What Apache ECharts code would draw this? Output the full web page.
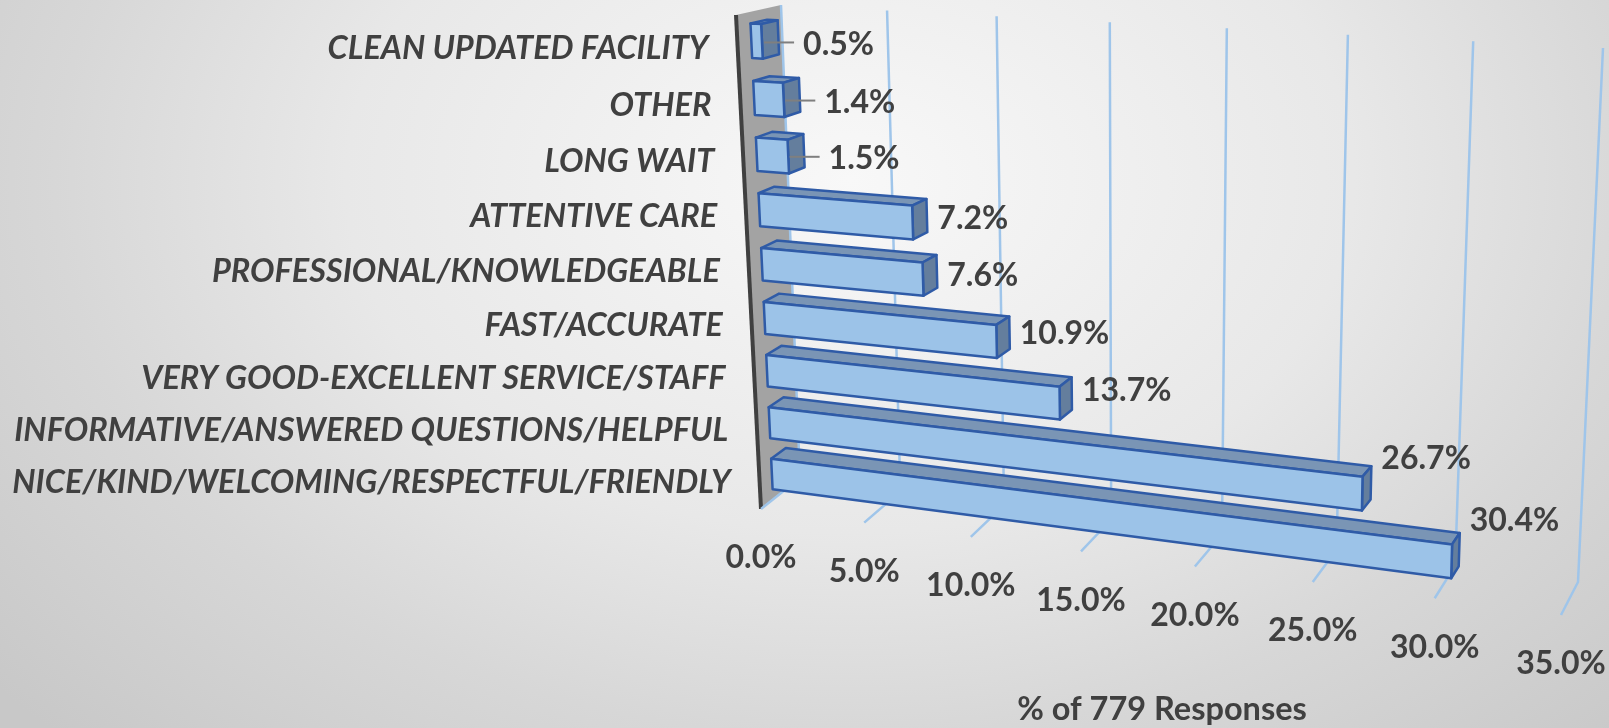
<!DOCTYPE html>
<html>
<head>
<meta charset="utf-8">
<title>% of 779 Responses</title>
<script src="https://cdn.jsdelivr.net/npm/echarts@6/dist/echarts.min.js"></script>
<style>
  html, body { margin: 0; padding: 0; }
  #main {
    width: 1609px;
    height: 728px;
    background: radial-gradient(ellipse 1120px 784px at 850px 180px, #f8f8f8 0%, #e8e8e8 45%, #d7d7d7 71%, #c8c8c8 100%);
  }
</style>
</head>
<body>
<div id="main"></div>
<script>
// bottom bar first, same order as the value axis runs upwards
const categories = [
  'NICE/KIND/WELCOMING/RESPECTFUL/FRIENDLY',
  'INFORMATIVE/ANSWERED QUESTIONS/HELPFUL',
  'VERY GOOD-EXCELLENT SERVICE/STAFF',
  'FAST/ACCURATE',
  'PROFESSIONAL/KNOWLEDGEABLE',
  'ATTENTIVE CARE',
  'LONG WAIT',
  'OTHER',
  'CLEAN UPDATED FACILITY'
];
const percents = [30.4, 26.7, 13.7, 10.9, 7.6, 7.2, 1.5, 1.4, 0.5];
const valueTicks = [0, 5, 10, 15, 20, 25, 30, 35];
const axisTitle = '% of 779 Responses';

// corners of the 3D box as Excel drew it: [front, back] -> [bottom, top] -> [min, max]
const box = {
  frontBottom: [[761, 509], [1561, 615]],
  frontTop: [[736, 15], [1580, 58]],
  backBottom: [[800, 478], [1578, 582]],
  backTop: [[781, 5], [1603, 48]]
};
const W_VALUE = 1.125;   // perspective along the value axis
const W_HEIGHT = 1.0735; // perspective along the category axis
const BAR_FRONT = 0.31;
const BAR_BACK = 0.68;
const BAR_BAND = 0.3;   // half bar thickness, in category bands

const TEXT_COLOR = '#404040';
const VALUE_FONT = 'bold 32px Lato';

function mix(a, b, t) {
  return [a[0] + (b[0] - a[0]) * t, a[1] + (b[1] - a[1]) * t];
}

// s: 0..1 along value axis, c: 0..1 up the categories, d: 0 front .. 1 back
function project(s, c, d) {
  const u = s / (W_VALUE + (1 - W_VALUE) * s);
  const h = c / (W_HEIGHT + (1 - W_HEIGHT) * c);
  const front = mix(
    mix(box.frontBottom[0], box.frontBottom[1], u),
    mix(box.frontTop[0], box.frontTop[1], u), h);
  const back = mix(
    mix(box.backBottom[0], box.backBottom[1], u),
    mix(box.backTop[0], box.backTop[1], u), h);
  return mix(front, back, d);
}

// go through the hidden cartesian axes, then warp into the box
function toBox(params, api, value, catPos) {
  const rect = params.coordSys;
  const p = api.coord([value, catPos]);
  return [(p[0] - rect.x) / rect.width, 1 - (p[1] - rect.y) / rect.height];
}

function renderWall(params, api) {
  const rect = params.coordSys;
  const zero = (api.coord([0, 0])[0] - rect.x) / rect.width;
  return {
    type: 'group',
    children: [
      {
        type: 'polygon',
        shape: { points: [project(zero, 0, 0), project(zero, 1, 0), project(zero, 1, 1), project(zero, 0, 1)] },
        style: { fill: '#a3a3a3' }
      },
      {
        type: 'line',
        shape: {
          x1: project(zero, 0, 0)[0], y1: project(zero, 0, 0)[1],
          x2: project(zero, 1, 0)[0], y2: project(zero, 1, 0)[1]
        },
        style: { stroke: '#404040', lineWidth: 4 }
      }
    ]
  };
}

function renderGridLine(params, api) {
  const v = api.value(0);
  const rect = params.coordSys;
  const s = (api.coord([v, 0])[0] - rect.x) / rect.width;
  return {
    type: 'polyline',
    shape: { points: [project(s, 1, 1), project(s, 0, 1), project(s, 0, 0)] },
    style: { fill: 'none', stroke: '#9fc5ea', lineWidth: 2.5 }
  };
}

function renderTickLabel(params, api) {
  const v = api.value(0);
  const rect = params.coordSys;
  const s = (api.coord([v, 0])[0] - rect.x) / rect.width;
  const p = project(s, 0, 0);
  return {
    type: 'text',
    style: {
      text: v.toFixed(1) + '%',
      x: p[0], y: p[1] + 49,
      align: 'center', verticalAlign: 'middle',
      font: VALUE_FONT,
      fill: TEXT_COLOR
    }
  };
}

function renderCategoryLabel(params, api) {
  const i = api.value(1);
  const s = toBox(params, api, 0, i);
  const p = project(s[0], s[1], 0);
  return {
    type: 'text',
    style: {
      text: categories[i],
      x: p[0] - 29,
      y: p[1] + 6 * s[1] * s[1] - 1,
      align: 'right', verticalAlign: 'middle',
      font: 'italic bold 32.5px Lato',
      fill: TEXT_COLOR
    }
  };
}

function barCorners(params, api, v, i) {
  const band = api.size([0, 1])[1] / params.coordSys.height;
  const end = toBox(params, api, v, i);
  const start = toBox(params, api, 0, i);
  const low = end[1] - BAR_BAND * band;
  const high = end[1] + BAR_BAND * band;
  return {
    fbl: project(start[0], low, BAR_FRONT),
    ftl: project(start[0], high, BAR_FRONT),
    fbr: project(end[0], low, BAR_FRONT),
    ftr: project(end[0], high, BAR_FRONT),
    btl: project(start[0], high, BAR_BACK),
    btr: project(end[0], high, BAR_BACK),
    bbr: project(end[0], low, BAR_BACK)
  };
}

function renderBar(params, api) {
  const v = api.value(0);
  const i = api.value(1);
  const b = barCorners(params, api, v, i);
  const edge = { stroke: '#2f5ba7', lineWidth: 2.5, lineJoin: 'round' };
  return {
    type: 'group',
    children: [
      {
        type: 'polygon',
        shape: { points: [b.ftl, b.btl, b.btr, b.ftr] },
        style: Object.assign({ fill: '#7a95b5' }, edge)
      },
      {
        type: 'polygon',
        shape: { points: [b.ftr, b.btr, b.bbr, b.fbr] },
        style: Object.assign({ fill: '#647e9d' }, edge)
      },
      {
        type: 'polygon',
        shape: { points: [b.ftl, b.ftr, b.fbr, b.fbl] },
        style: Object.assign({ fill: '#9cc3e8' }, edge)
      }
    ]
  };
}

function renderValueLabel(params, api) {
  const v = api.value(0);
  const i = api.value(1);
  const b = barCorners(params, api, v, i);
  const sideX = Math.max(b.btr[0], b.bbr[0]);
  const sideY = (b.btr[1] + b.fbr[1]) / 2;
  // the tiny bars have their label pulled out with a leader line
  const small = v < 2;
  const left = sideX + (small ? 24 : 10);
  // Excel lifts the labels of the long bars off the bar end
  const lift = Math.max(0, v - 9) * 1.65;
  const children = [{
    type: 'text',
    style: {
      text: v.toFixed(1) + '%',
      x: left, y: sideY - lift + (small ? 5 : 0),
      align: 'left', verticalAlign: 'middle',
      font: VALUE_FONT,
      fill: TEXT_COLOR
    }
  }];
  if (small) {
    children.unshift({
      type: 'line',
      shape: { x1: sideX - 15, y1: sideY + 3, x2: left - 9, y2: sideY + 3 },
      style: { stroke: '#7f7f7f', lineWidth: 2 }
    });
  }
  return { type: 'group', children: children };
}

const barData = percents.map(function (v, i) { return [v, i]; });
const tickData = valueTicks.map(function (v) { return [v, 0]; });
const labelData = categories.map(function (c, i) { return [0, i]; });

const chart = echarts.init(document.getElementById('main'));
chart.setOption({
  animation: false,
  title: {
    text: axisTitle,
    left: 1157,
    top: 705,
    textAlign: 'center',
    textVerticalAlign: 'middle',
    textStyle: { fontFamily: 'Lato', fontSize: 32.5, fontWeight: 'bold', color: TEXT_COLOR }
  },
  grid: { left: 0, right: 0, top: 0, bottom: 0 },
  xAxis: { type: 'value', min: 0, max: 35, interval: 5, show: false },
  yAxis: { type: 'category', data: categories, show: false },
  series: [
    { type: 'custom', name: 'wall', data: [[0, 0]], renderItem: renderWall, clip: false, silent: true, z: 1 },
    { type: 'custom', name: 'grid', data: tickData, renderItem: renderGridLine, clip: false, silent: true, z: 2 },
    { type: 'custom', name: 'Responses', data: barData, renderItem: renderBar, clip: false, z: 3 },
    { type: 'custom', name: 'values', data: barData, renderItem: renderValueLabel, clip: false, silent: true, z: 4 },
    { type: 'custom', name: 'ticks', data: tickData, renderItem: renderTickLabel, clip: false, silent: true, z: 4 },
    { type: 'custom', name: 'categories', data: labelData, renderItem: renderCategoryLabel, clip: false, silent: true, z: 4 }
  ]
});
</script>
</body>
</html>
